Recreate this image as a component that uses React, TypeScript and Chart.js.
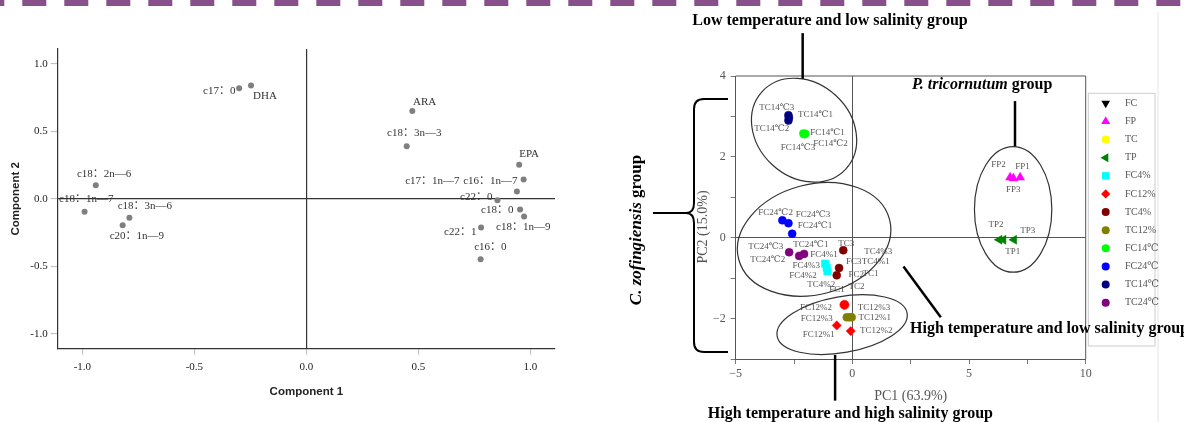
import React, { useEffect, useRef } from 'react';
import { Chart, registerables } from 'chart.js';

Chart.register(...registerables);

const SERIF = '"Liberation Serif", "Times New Roman", "DejaVu Serif", "Noto Sans CJK SC", serif';
const SANS = '"Liberation Sans", Arial, sans-serif';

// ---------------- Left panel: loading plot ----------------
const fattyAcids = ['c17：0', 'DHA', 'c18：2n—6', 'c18：1n—7', 'c18：3n—6', 'c20：1n—9', 'ARA', 'c18：3n—3', 'EPA', 'c16：1n—7', 'c17：1n—7', 'c22：0', 'c18：0', 'c18：1n—9', 'c22：1', 'c16：0'];
const component1 = [-0.30, -0.247, -0.94, -0.99, -0.79, -0.82, 0.473, 0.448, 0.95, 0.97, 0.94, 0.853, 0.954, 0.972, 0.78, 0.778];
const component2 = [0.82, 0.84, 0.10, -0.095, -0.14, -0.196, 0.65, 0.39, 0.253, 0.144, 0.055, -0.011, -0.078, -0.13, -0.213, -0.447];
// label anchors (data units, left / middle)
const faLabelX = [-0.461, -0.238, -1.024, -1.104, -0.842, -0.878, 0.476, 0.360, 0.950, 0.700, 0.441, 0.686, 0.780, 0.847, 0.615, 0.749];
const faLabelY = [0.795, 0.758, 0.181, -0.004, -0.055, -0.277, 0.714, 0.484, 0.329, 0.129, 0.129, 0.011, -0.085, -0.211, -0.248, -0.359];
const loadingTicks = [-1, -0.5, 0, 0.5, 1];

// ---------------- Right panel: PCA score plot ----------------
const groupNames = ['FC', 'FP', 'TC', 'TP', 'FC4%', 'FC12%', 'TC4%', 'TC12%', 'FC14℃', 'FC24℃', 'TC14℃', 'TC24℃'];
const FC_pc1 = [-1.17, -1.10, -1.07];
const FC_pc2 = [-0.64, -0.74, -0.83];
const FP_pc1 = [6.76, 6.90, 7.19];
const FP_pc2 = [1.49, 1.47, 1.49];
const TC_pc1 = [-0.39, -0.57, -0.67];
const TC_pc2 = [-0.31, -0.75, -0.93];
const TP_pc1 = [6.30, 6.47, 6.93];
const TP_pc2 = [-0.05, -0.05, -0.05];
const FC4_pc1 = [-1.17, -1.10, -1.07];
const FC4_pc2 = [-0.64, -0.74, -0.83];
const FC12_pc1 = [-0.34, -0.67, -0.07];
const FC12_pc2 = [-1.66, -2.17, -2.31];
const TC4_pc1 = [-0.39, -0.57, -0.67];
const TC4_pc2 = [-0.31, -0.75, -0.93];
const TC12_pc1 = [-0.24, -0.13, -0.03];
const TC12_pc2 = [-1.97, -1.97, -1.97];
const FC14_pc1 = [-2.10, -2.06, -2.02];
const FC14_pc2 = [2.58, 2.56, 2.57];
const FC24_pc1 = [-3.00, -2.74, -2.58];
const FC24_pc2 = [0.43, 0.36, 0.10];
const TC14_pc1 = [-2.74, -2.74, -2.72];
const TC14_pc2 = [3.03, 2.90, 2.97];
const TC24_pc1 = [-2.71, -2.28, -2.07];
const TC24_pc2 = [-0.36, -0.45, -0.40];

const groupPc1 = [FC_pc1, FP_pc1, TC_pc1, TP_pc1, FC4_pc1, FC12_pc1, TC4_pc1, TC12_pc1, FC14_pc1, FC24_pc1, TC14_pc1, TC24_pc1];
const groupPc2 = [FC_pc2, FP_pc2, TC_pc2, TP_pc2, FC4_pc2, FC12_pc2, TC4_pc2, TC12_pc2, FC14_pc2, FC24_pc2, TC14_pc2, TC24_pc2];

const sampleLabels = ['TC14℃3', 'TC14℃1', 'TC14℃2', 'FC14℃1', 'FC14℃3', 'FC14℃2', 'FC24℃2', 'FC24℃3', 'FC24℃1', 'TC24℃3', 'TC24℃1', 'TC24℃2', 'FC4%1', 'TC3', 'TC4%3', 'FC4%3', 'FC3', 'TC4%1', 'FC4%2', 'FC2', 'TC1', 'TC4%2', 'FC1', 'TC2', 'FC12%2', 'TC12%3', 'FC12%3', 'TC12%1', 'FC12%1', 'TC12%2', 'FP2', 'FP1', 'FP3', 'TP2', 'TP3', 'TP1'];
const sampleLabelX = [-3.99, -2.33, -4.21, -1.81, -3.07, -1.68, -4.03, -2.43, -2.34, -4.46, -2.53, -4.38, -1.81, -0.60, 0.51, -2.57, -0.27, 0.40, -2.70, -0.17, 0.43, -1.93, -0.99, -0.17, -2.24, 0.23, -2.21, 0.26, -2.13, 0.33, 5.95, 6.98, 6.58, 5.83, 7.19, 6.55];
const sampleLabelY = [3.21, 3.05, 2.70, 2.61, 2.24, 2.33, 0.62, 0.57, 0.30, -0.22, -0.17, -0.54, -0.41, -0.15, -0.34, -0.70, -0.59, -0.59, -0.93, -0.91, -0.88, -1.16, -1.29, -1.21, -1.74, -1.74, -2.00, -1.97, -2.39, -2.31, 1.81, 1.75, 1.19, 0.32, 0.18, -0.34];

const pcTicksX = [-5, -2.5, 0, 2.5, 5, 7.5, 10];
const pcLabeledX = [-5, 0, 5, 10];
const pcTicksY = [-3, -2, -1, 0, 1, 2, 3, 4];
const pcLabeledY = [-2, 0, 2, 4];

// ---------------- styles / annotation geometry ----------------
const groupStyles = [
  { color: '#000000', style: 'triangle', rotation: 180, radius: 5 },
  { color: '#ff00ff', style: 'triangle', rotation: 0, radius: 5.2 },
  { color: '#ffff00', style: 'circle', rotation: 0, radius: 4 },
  { color: '#008000', style: 'triangle', rotation: -90, radius: 5.2 },
  { color: '#00ffff', style: 'rect', rotation: 0, radius: 5.2 },
  { color: '#ff0000', style: 'rectRot', rotation: 0, radius: 4.6 },
  { color: '#800000', style: 'circle', rotation: 0, radius: 4 },
  { color: '#808000', style: 'circle', rotation: 0, radius: 4 },
  { color: '#00ff00', style: 'circle', rotation: 0, radius: 4 },
  { color: '#0000ff', style: 'circle', rotation: 0, radius: 4 },
  { color: '#000080', style: 'circle', rotation: 0, radius: 4 },
  { color: '#800080', style: 'circle', rotation: 0, radius: 4 },
];
const FC12_pointStyles = ['circle', 'rectRot', 'rectRot'];

const ellipses = [
  { cx: -2.07, cy: 2.66, rx: 57, ry: 47, rot: 43 },
  { cx: -1.64, cy: -0.04, rx: 78, ry: 55, rot: -15 },
  { cx: -0.44, cy: -2.15, rx: 66, ry: 28, rot: -10 },
  { cx: 6.89, cy: 0.70, rx: 38.7, ry: 62.8, rot: 0 },
];
const leaders = [
  { x1: -2.13, y1: 5.06, x2: -2.13, y2: 3.93 },
  { x1: 6.97, y1: 3.38, x2: 6.97, y2: 2.26 },
  { x1: 2.19, y1: -0.71, x2: 3.79, y2: -1.97 },
  { x1: -0.74, y1: -2.90, x2: -0.74, y2: -4.03 },
];

const RIGHT_OFF = 590;

function fmtPc(v: number) {
  return v < 0 ? '\u2212' + Math.abs(v) : String(v);
}

function drawMarker(ctx: CanvasRenderingContext2D, style: string, r: number, rotDeg: number, x: number, y: number) {
  ctx.save();
  ctx.translate(x, y);
  ctx.rotate((rotDeg * Math.PI) / 180);
  ctx.beginPath();
  if (style === 'circle') {
    ctx.arc(0, 0, r, 0, Math.PI * 2);
  } else if (style === 'triangle') {
    for (let k = 0; k < 3; k++) {
      const a = -Math.PI / 2 + (k * 2 * Math.PI) / 3;
      const px = Math.cos(a) * r;
      const py = Math.sin(a) * r;
      if (k === 0) ctx.moveTo(px, py);
      else ctx.lineTo(px, py);
    }
    ctx.closePath();
  } else if (style === 'rect') {
    const s = r * Math.SQRT1_2;
    ctx.rect(-s, -s, 2 * s, 2 * s);
  } else if (style === 'rectRot') {
    ctx.moveTo(0, -r);
    ctx.lineTo(r, 0);
    ctx.lineTo(0, r);
    ctx.lineTo(-r, 0);
    ctx.closePath();
  }
  ctx.fill();
  ctx.restore();
}

const leftLabels = {
  id: 'leftLabels',
  afterDatasetsDraw(chart: any) {
    const { ctx, scales } = chart;
    const x = scales.x;
    const y = scales.y;
    ctx.save();
    ctx.font = `11px ${SERIF}`;
    ctx.fillStyle = '#333';
    ctx.textAlign = 'left';
    ctx.textBaseline = 'middle';
    fattyAcids.forEach((t, i) => {
      ctx.fillText(t, x.getPixelForValue(faLabelX[i]), y.getPixelForValue(faLabelY[i]));
    });
    ctx.restore();
  },
};

function mixedText(ctx: CanvasRenderingContext2D, parts: { t: string; italic: boolean }[], size: number, x: number, y: number, align: 'left' | 'center') {
  const fonts = parts.map((p) => `${p.italic ? 'italic ' : ''}bold ${size}px ${SERIF}`);
  const widths = parts.map((p, i) => {
    ctx.font = fonts[i];
    return ctx.measureText(p.t).width;
  });
  const total = widths.reduce((a, b) => a + b, 0);
  let cx = align === 'center' ? x - total / 2 : x;
  ctx.textAlign = 'left';
  parts.forEach((p, i) => {
    ctx.font = fonts[i];
    ctx.fillText(p.t, cx, y);
    cx += widths[i];
  });
}

const rightDecor = {
  id: 'rightDecor',
  afterDatasetsDraw(chart: any) {
    const { ctx, scales } = chart;
    const x = scales.x;
    const y = scales.y;
    ctx.save();
    ctx.font = `9px ${SERIF}`;
    ctx.fillStyle = '#555';
    ctx.textAlign = 'left';
    ctx.textBaseline = 'middle';
    sampleLabels.forEach((t, i) => {
      ctx.fillText(t, x.getPixelForValue(sampleLabelX[i]), y.getPixelForValue(sampleLabelY[i]));
    });
    ctx.restore();
  },
  afterDraw(chart: any) {
    const { ctx, scales, chartArea: a } = chart;
    const x = scales.x;
    const y = scales.y;
    const P = (px: number) => px - RIGHT_OFF;
    ctx.save();
    // frame
    ctx.strokeStyle = '#555';
    ctx.lineWidth = 1;
    ctx.beginPath();
    ctx.moveTo(a.left, a.top);
    ctx.lineTo(a.right, a.top);
    ctx.lineTo(a.right, a.bottom);
    ctx.stroke();

    // faint page line
    ctx.strokeStyle = '#e4e4e4';
    ctx.beginPath();
    ctx.moveTo(P(1158), 12);
    ctx.lineTo(P(1158), 422);
    ctx.stroke();

    // ellipses
    ctx.strokeStyle = '#333';
    ctx.lineWidth = 1.2;
    ellipses.forEach((e) => {
      ctx.beginPath();
      ctx.ellipse(x.getPixelForValue(e.cx), y.getPixelForValue(e.cy), e.rx, e.ry, (e.rot * Math.PI) / 180, 0, Math.PI * 2);
      ctx.stroke();
    });

    // leader lines
    ctx.strokeStyle = '#000';
    ctx.lineWidth = 2.5;
    leaders.forEach((l) => {
      ctx.beginPath();
      ctx.moveTo(x.getPixelForValue(l.x1), y.getPixelForValue(l.y1));
      ctx.lineTo(x.getPixelForValue(l.x2), y.getPixelForValue(l.y2));
      ctx.stroke();
    });

    // brace
    ctx.lineWidth = 2;
    ctx.beginPath();
    ctx.moveTo(P(728), 99);
    ctx.lineTo(P(704), 99);
    ctx.quadraticCurveTo(P(694), 99, P(694), 109);
    ctx.lineTo(P(694), 203);
    ctx.quadraticCurveTo(P(694), 213, P(686), 213);
    ctx.quadraticCurveTo(P(694), 213, P(694), 223);
    ctx.lineTo(P(694), 342);
    ctx.quadraticCurveTo(P(694), 352, P(704), 352);
    ctx.lineTo(P(728), 352);
    ctx.stroke();
    ctx.beginPath();
    ctx.moveTo(P(653), 213);
    ctx.lineTo(P(686), 213);
    ctx.stroke();

    // legend
    const lx = P(1088.3);
    const ly = 93.3;
    ctx.fillStyle = '#fff';
    ctx.fillRect(lx, ly, 66.7, 252.7);
    ctx.strokeStyle = '#ccc';
    ctx.lineWidth = 1;
    ctx.strokeRect(lx, ly, 66.7, 252.7);
    ctx.textBaseline = 'middle';
    ctx.textAlign = 'left';
    groupNames.forEach((g, i) => {
      const yy = 103.3 + i * 18.13;
      const st = groupStyles[i];
      ctx.fillStyle = st.color;
      drawMarker(ctx, st.style, st.radius, st.rotation, P(1105.7), yy);
      ctx.fillStyle = '#555';
      ctx.font = `10px ${SERIF}`;
      ctx.fillText(g, P(1125), yy);
    });

    // PC2 axis title
    ctx.save();
    ctx.translate(P(703.5), 227);
    ctx.rotate(-Math.PI / 2);
    ctx.font = `14px ${SERIF}`;
    ctx.fillStyle = '#555';
    ctx.textAlign = 'center';
    ctx.fillText('PC2 (15.0%)', 0, 0);
    ctx.restore();

    // group titles
    ctx.fillStyle = '#000';
    ctx.textBaseline = 'middle';
    mixedText(ctx, [{ t: 'Low temperature and low salinity group', italic: false }], 16, P(830), 21, 'center');
    mixedText(ctx, [{ t: 'P. tricornutum', italic: true }, { t: ' group', italic: false }], 16, P(912), 85, 'left');
    mixedText(ctx, [{ t: 'High temperature and low salinity group', italic: false }], 16, P(910), 329, 'left');
    mixedText(ctx, [{ t: 'High temperature and high salinity group', italic: false }], 16, P(850.4), 414, 'center');
    ctx.save();
    ctx.translate(P(636.7), 230);
    ctx.rotate(-Math.PI / 2);
    mixedText(ctx, [{ t: 'C. zofingiensis', italic: true }, { t: ' group', italic: false }], 17, 0, 0, 'center');
    ctx.restore();

    ctx.restore();
  },
};

function leftConfig(): any {
  return {
    type: 'scatter',
    data: {
      datasets: [
        {
          data: component1.map((v, i) => ({ x: v, y: component2[i] })),
          pointRadius: 3,
          pointBackgroundColor: '#7f7f7f',
          pointBorderWidth: 0,
        },
      ],
    },
    plugins: [leftLabels],
    options: {
      animation: false,
      responsive: false,
      devicePixelRatio: 1,
      layout: { padding: { top: 49, right: 35, left: 0, bottom: 0 } },
      plugins: { legend: { display: false }, tooltip: { enabled: false } },
      scales: {
        x: {
          type: 'linear',
          min: -1.11,
          max: 1.11,
          afterBuildTicks: (s: any) => {
            s.ticks = loadingTicks.map((v) => ({ value: v }));
          },
          afterFit: (s: any) => {
            s.height = 73.3;
          },
          ticks: {
            callback: (v: any) => Number(v).toFixed(1),
            font: { family: SERIF, size: 11 },
            color: '#222',
            padding: 6,
            autoSkip: false,
            maxRotation: 0,
          },
          grid: {
            drawOnChartArea: true,
            color: (c: any) => (c.tick && c.tick.value === 0 ? '#333' : 'rgba(0,0,0,0)'),
            lineWidth: 1.2,
            tickColor: '#bbb',
            tickLength: 6,
            tickWidth: 1,
          },
          border: { display: true, color: '#333', width: 1.2 },
          title: {
            display: true,
            text: 'Component 1',
            font: { family: SANS, size: 11.5, weight: 'bold' },
            color: '#222',
            padding: { top: 0, bottom: 22.8 },
          },
        },
        y: {
          type: 'linear',
          min: -1.11,
          max: 1.11,
          afterBuildTicks: (s: any) => {
            s.ticks = loadingTicks.map((v) => ({ value: v }));
          },
          afterFit: (s: any) => {
            s.width = 57.7;
          },
          ticks: {
            callback: (v: any) => Number(v).toFixed(1),
            font: { family: SERIF, size: 11 },
            color: '#222',
            padding: 3,
            autoSkip: false,
          },
          grid: {
            drawOnChartArea: true,
            color: (c: any) => (c.tick && c.tick.value === 0 ? '#333' : 'rgba(0,0,0,0)'),
            lineWidth: 1.2,
            tickColor: '#bbb',
            tickLength: 7,
            tickWidth: 1,
          },
          border: { display: true, color: '#333', width: 1.2 },
          title: {
            display: true,
            text: 'Component 2',
            font: { family: SANS, size: 11.5, weight: 'bold' },
            color: '#222',
            padding: { top: 9, bottom: 0 },
          },
        },
      },
    },
  };
}

function rightConfig(): any {
  const datasets = groupNames.map((g, i) => {
    const st = groupStyles[i];
    const hidden = g === 'FC' || g === 'TC';
    return {
      label: g,
      data: groupPc1[i].map((v, k) => ({ x: v, y: groupPc2[i][k] })),
      pointStyle: g === 'FC12%' ? FC12_pointStyles : st.style,
      rotation: st.rotation,
      pointRadius: hidden ? 2.5 : st.radius,
      pointBackgroundColor: st.color,
      pointBorderColor: st.color,
      pointBorderWidth: 0.5,
      order: hidden ? 1 : 0,
    };
  });
  return {
    type: 'scatter',
    data: { datasets },
    plugins: [rightDecor],
    options: {
      animation: false,
      responsive: false,
      devicePixelRatio: 1,
      layout: { padding: { top: 76, right: 98.3, left: 0, bottom: 0 } },
      plugins: { legend: { display: false }, tooltip: { enabled: false } },
      scales: {
        x: {
          type: 'linear',
          min: -5,
          max: 10,
          afterBuildTicks: (s: any) => {
            s.ticks = pcTicksX.map((v) => ({ value: v }));
          },
          afterFit: (s: any) => {
            s.height = 63;
          },
          ticks: {
            callback: (v: any) => (pcLabeledX.includes(Number(v)) ? fmtPc(Number(v)) : ''),
            font: { family: SERIF, size: 12 },
            color: '#555',
            padding: 3,
            autoSkip: false,
            maxRotation: 0,
          },
          grid: {
            drawOnChartArea: true,
            color: (c: any) => (c.tick && c.tick.value === 0 ? '#555' : 'rgba(0,0,0,0)'),
            lineWidth: 1,
            tickColor: '#777',
            tickLength: 5,
          },
          border: { display: true, color: '#555', width: 1 },
          title: {
            display: true,
            text: 'PC1 (63.9%)',
            font: { family: SERIF, size: 14 },
            color: '#555',
            padding: { top: 0, bottom: 17 },
          },
        },
        y: {
          type: 'linear',
          min: -3,
          max: 4,
          afterBuildTicks: (s: any) => {
            s.ticks = pcTicksY.map((v) => ({ value: v }));
          },
          afterFit: (s: any) => {
            s.width = 145.7;
          },
          ticks: {
            callback: (v: any) => (pcLabeledY.includes(Number(v)) ? fmtPc(Number(v)) : ''),
            font: { family: SERIF, size: 12 },
            color: '#555',
            padding: 5,
            autoSkip: false,
          },
          grid: {
            drawOnChartArea: true,
            color: (c: any) => (c.tick && c.tick.value === 0 ? '#555' : 'rgba(0,0,0,0)'),
            lineWidth: 1,
            tickColor: '#777',
            tickLength: 5,
          },
          border: { display: true, color: '#555', width: 1 },
          title: { display: false },
        },
      },
    },
  };
}

export default function App() {
  const leftRef = useRef<HTMLCanvasElement>(null);
  const rightRef = useRef<HTMLCanvasElement>(null);
  useEffect(() => {
    document.body.style.margin = '0';
    const left = new Chart(leftRef.current as HTMLCanvasElement, leftConfig());
    const right = new Chart(rightRef.current as HTMLCanvasElement, rightConfig());
    return () => {
      left.destroy();
      right.destroy();
    };
  }, []);
  return (
    <div style={{ position: 'relative', width: 1184, height: 422, overflow: 'hidden', background: '#fff' }}>
      <div
        style={{
          position: 'absolute',
          left: 0,
          top: 0,
          width: 1184,
          height: 6,
          backgroundImage: 'linear-gradient(to right, #87508a 0px, #87508a 24px, transparent 24px)',
          backgroundSize: '42px 6px',
          backgroundRepeat: 'repeat-x',
          backgroundPosition: '22.3px 0px',
        }}
      />
      <canvas ref={leftRef} width={590} height={422} style={{ position: 'absolute', left: 0, top: 0 }} />
      <canvas ref={rightRef} width={594} height={422} style={{ position: 'absolute', left: RIGHT_OFF, top: 0 }} />
    </div>
  );
}
